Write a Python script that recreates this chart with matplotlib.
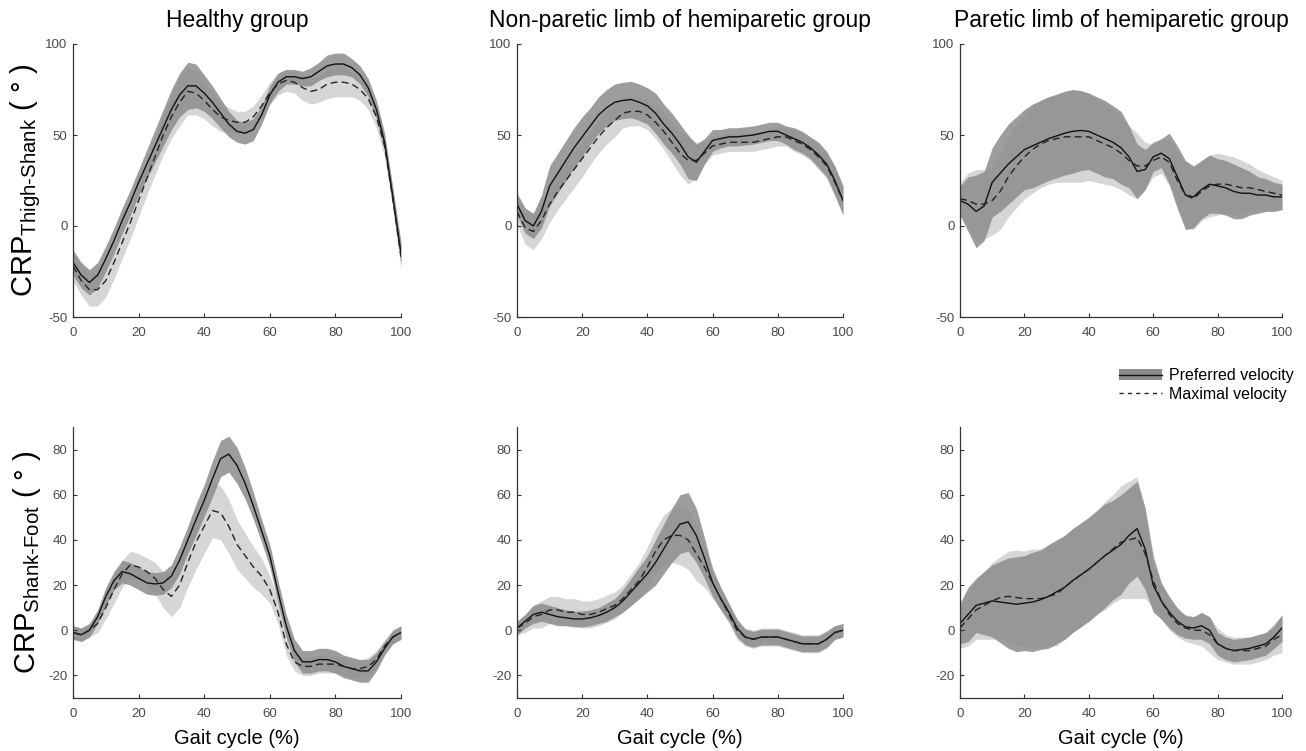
import numpy as np
import matplotlib
matplotlib.use("Agg")
import matplotlib.pyplot as plt
from matplotlib.patches import Patch
from matplotlib.lines import Line2D

plt.rcParams['font.family'] = ['Liberation Sans', 'DejaVu Sans']
plt.rcParams['mathtext.fontset'] = 'custom'
plt.rcParams['mathtext.rm'] = 'Liberation Sans'
plt.rcParams['mathtext.it'] = 'Liberation Sans'
plt.rcParams['axes.unicode_minus'] = False

# gait cycle (%) sampled every 2.5 %
gait = np.arange(0, 100.1, 2.5)

titles = ["Healthy group", "Non-paretic limb of hemiparetic group",
          "Paretic limb of hemiparetic group"]

# ---- CRP thigh-shank (top row) ----
ts_healthy_pref = [-20, -27, -31, -27, -18, -8, 3, 13, 24, 34, 44, 54, 64, 72, 77, 77, 73, 68, 62, 56,
                   52, 51, 53, 61, 72, 79, 82, 82, 81, 82, 85, 88, 89, 89, 87, 83, 76, 64, 46, 16, -15]
ts_healthy_pref_sd = [7, 7, 7, 7, 7, 7, 7, 7, 7, 8, 9, 10, 11, 12, 13, 12, 10, 9, 8, 7,
                      6, 6, 6, 5, 5, 5, 4, 4, 4, 5, 5, 6, 6, 6, 5, 5, 5, 5, 5, 5, 6]
ts_healthy_max = [-22, -30, -35, -35, -30, -20, -9, 2, 14, 26, 38, 50, 60, 68, 74, 73, 69, 64, 60, 58,
                  57, 57, 60, 66, 73, 78, 80, 79, 76, 74, 75, 78, 79, 79, 78, 75, 70, 60, 44, 15, -17]
ts_healthy_max_sd = [8, 8, 9, 9, 9, 9, 9, 9, 9, 9, 10, 11, 12, 13, 13, 12, 10, 9, 8, 7,
                     6, 6, 6, 6, 6, 6, 6, 6, 7, 7, 7, 8, 8, 8, 7, 6, 6, 6, 6, 6, 7]

ts_nonpar_pref = [12, 3, 0, 8, 22, 29, 36, 43, 49, 55, 61, 65, 68, 69, 69.5, 68, 66, 62, 56, 51,
                  45, 38, 35, 41, 47, 48, 49, 49, 49.5, 50, 51, 52, 52, 50, 48, 46, 43, 39, 34, 25, 14]
ts_nonpar_pref_sd = [6, 7, 7, 9, 11, 11, 11, 11, 11, 10, 10, 10, 10, 10, 10, 10, 10, 11, 11, 11,
                     11, 12, 10, 7, 6, 5, 5, 5, 5, 5, 5, 5, 5, 5, 6, 6, 6, 7, 7, 8, 8]
ts_nonpar_max = [8, -1, -3, 3, 12, 19, 25, 31, 37, 43, 49, 54, 58, 62, 63, 63, 61, 57, 52, 46,
                 40, 36, 36, 40, 44, 45, 46, 46, 46, 46, 47, 48, 49, 49, 47, 45, 42, 38, 33, 24, 14]
ts_nonpar_max_sd = [7, 9, 10, 10, 10, 10, 10, 10, 10, 9, 9, 9, 9, 8, 8, 8, 8, 9, 10, 11,
                    12, 13, 10, 6, 5, 5, 5, 5, 5, 5, 5, 5, 5, 5, 6, 6, 6, 7, 7, 8, 8]

ts_par_pref = [14, 12, 8, 11, 24, 29, 34, 38, 42, 44, 46, 48, 49.5, 51, 52, 52.5, 52, 50, 48, 46,
               43, 38, 30, 31, 38, 40, 37, 27, 17, 16, 20, 23, 22, 21, 19, 18, 18, 17, 17, 16, 16]
ts_par_pref_sd = [8, 15, 20, 19, 19, 21, 22, 22, 22, 23, 23, 23, 23, 23, 23, 22, 21, 21, 21, 20,
                  20, 17, 15, 11, 8, 8, 14, 17, 19, 17, 16, 16, 15, 15, 15, 14, 12, 10, 9, 8, 7]
ts_par_max = [15, 14, 12, 12, 14, 19, 27, 33, 38, 42, 45, 47, 48, 49, 49, 49, 49, 47, 45, 43,
              40, 36, 33, 33, 36, 38, 35, 25, 17, 15, 19, 22, 23, 23, 22, 21, 21, 20, 19, 18, 17]
ts_par_max_sd = [9, 15, 19, 19, 19, 21, 22, 23, 23, 24, 24, 24, 24, 25, 25, 25, 24, 23, 22, 21,
                 20, 19, 18, 13, 9, 9, 13, 16, 18, 17, 16, 17, 17, 16, 16, 15, 13, 11, 10, 9, 8]

# ---- CRP shank-foot (bottom row) ----
sf_healthy_pref = [-1, -2, 0, 6, 15, 22, 26, 25, 23, 21, 20.5, 21, 24, 31, 40, 49, 57.5, 67, 76, 78,
                   73, 65, 55, 44, 33, 17, 2, -9, -14, -14, -13, -13, -14, -16, -17, -18, -18, -14, -8, -3, -1]
sf_healthy_pref_sd = [3, 3, 3, 3, 4, 4, 5, 5, 5, 5, 5, 5, 5, 6, 6, 7, 7, 8, 8, 8,
                      8, 7, 6, 5, 5, 5, 5, 5, 5, 5, 5, 5, 5, 5, 5, 5, 5, 4, 3, 3, 3]
sf_healthy_max = [-1, -2, 0, 3, 10, 18, 25, 29, 28, 26, 23, 18, 15, 20, 30, 39, 46, 53, 52, 46,
                  38, 33, 28, 24, 18, 8, -6, -14, -16, -16, -15, -15, -15, -16, -17, -17, -16, -13, -7, -3, -1]
sf_healthy_max_sd = [3, 3, 3, 4, 5, 6, 6, 6, 6, 6, 7, 8, 9, 10, 11, 12, 12, 12, 12, 12,
                     11, 10, 9, 8, 6, 5, 5, 4, 4, 4, 4, 4, 4, 4, 4, 4, 4, 4, 3, 3, 3]

sf_nonpar_pref = [1, 4, 7, 8, 7, 6, 5.5, 5, 5, 5.5, 6.5, 8, 10, 13, 17, 21, 25, 30, 36, 42,
                  47, 48, 42, 32, 21, 14, 8, 1, -3, -4, -3, -3, -3, -4, -5, -6, -6, -6, -4, -1, 0]
sf_nonpar_pref_sd = [3, 3, 4, 4, 4, 4, 3.5, 3.5, 3.5, 3.5, 3.5, 4, 4, 5, 6, 7, 8, 10, 11, 12,
                     13, 13, 12, 9, 6, 5, 4, 4, 3.5, 3.5, 3.5, 3.5, 3.5, 3.5, 3.5, 3.5, 3.5, 3.5, 3.5, 3, 3]
sf_nonpar_max = [1, 3, 6, 7, 9, 9, 8, 8, 7, 7, 8, 9.5, 11, 14, 18, 22, 28, 35, 40, 42,
                 42, 40, 34, 28, 21, 14, 7, 0, -3, -4, -3, -3, -3, -4, -5, -6, -6, -6, -4, -1, 0]
sf_nonpar_max_sd = [3, 4, 5, 6, 6, 6, 6, 6, 6, 6, 6, 6, 6, 6, 7, 8, 9, 10, 11, 12,
                    13, 13, 12, 9, 7, 5, 4, 4, 4, 4, 4, 4, 4, 4, 4, 4, 4, 4, 4, 3, 3]

sf_par_pref = [3, 7, 11, 12, 13, 12.5, 12, 11.5, 12, 12.5, 13.5, 15, 17, 19, 22, 24.5, 27, 30, 33, 35.5,
               38, 42, 45, 36, 20, 13, 8, 4, 1.5, 1, 2, 0, -6, -8, -9, -8.5, -8, -7, -6, -3, 1]
sf_par_pref_sd = [9, 12, 12, 14, 16, 18, 20, 21, 21, 22, 22, 23, 23, 23, 23, 23, 23, 23, 23, 22,
                  22, 21, 21, 18, 12, 8, 7, 6, 5, 5, 6, 6, 5, 5, 5, 5, 5, 5, 5, 5, 6]
sf_par_max = [1, 5, 9, 11, 13, 14.5, 15, 14.5, 14, 14, 14, 15, 16, 19, 22, 24.5, 27, 30, 33, 36,
              39, 40, 41, 34, 22, 13, 7, 3, 1, 0, 0, -2, -6, -8, -9, -9, -9, -8, -7, -4, -2]
sf_par_max_sd = [9, 12, 13, 15, 17, 18, 20, 21, 21, 22, 22, 22, 23, 23, 23, 23, 23, 23, 24, 24,
                 25, 26, 27, 20, 12, 8, 7, 6, 6, 6, 7, 8, 7, 6, 6, 6, 6, 6, 6, 7, 8]

panels = [
    [(ts_healthy_pref, ts_healthy_pref_sd, ts_healthy_max, ts_healthy_max_sd),
     (ts_nonpar_pref, ts_nonpar_pref_sd, ts_nonpar_max, ts_nonpar_max_sd),
     (ts_par_pref, ts_par_pref_sd, ts_par_max, ts_par_max_sd)],
    [(sf_healthy_pref, sf_healthy_pref_sd, sf_healthy_max, sf_healthy_max_sd),
     (sf_nonpar_pref, sf_nonpar_pref_sd, sf_nonpar_max, sf_nonpar_max_sd),
     (sf_par_pref, sf_par_pref_sd, sf_par_max, sf_par_max_sd)],
]

DARK = '#8c8c8c'
LIGHT = '#d6d6d6'

fig = plt.figure(figsize=(13.06, 7.51), dpi=100)

lefts = [73, 517, 960]
rights = [401, 843, 1282]
rows = [(44, 317), (427, 698)]
W, H = 1306.0, 751.0

for r in range(2):
    top, bot = rows[r]
    for c in range(3):
        ax = fig.add_axes([lefts[c] / W, 1 - bot / H, (rights[c] - lefts[c]) / W, (bot - top) / H])
        pm, ps, mm, ms = [np.array(a, dtype=float) for a in panels[r][c]]
        ax.fill_between(gait, mm - ms, mm + ms, color=LIGHT, lw=0)
        ax.fill_between(gait, pm - ps, pm + ps, color=DARK, alpha=0.85, lw=0)
        ax.plot(gait, pm, color='#111111', lw=1.0)
        ax.plot(gait, mm, color='#222222', lw=1.0, dashes=(5, 3))
        ax.set_xlim(0, 100)
        ax.set_xticks([0, 20, 40, 60, 80, 100])
        if r == 0:
            ax.set_ylim(-50, 100)
            ax.set_yticks([-50, 0, 50, 100])
            ax.set_title(titles[c], fontsize=16.5, pad=12)
        else:
            ax.set_ylim(-30, 90)
            ax.set_yticks([-20, 0, 20, 40, 60, 80])
            ax.set_xlabel("Gait cycle (%)", fontsize=14.5, labelpad=7)
        for s in ['top', 'right']:
            ax.spines[s].set_visible(False)
        for s in ['left', 'bottom']:
            ax.spines[s].set_color('#333333')
            ax.spines[s].set_linewidth(0.9)
        ax.tick_params(direction='in', length=3, width=0.8, labelsize=9.5,
                       colors='#333333', labelcolor='#4a4a4a')
        ax.tick_params(axis='x', pad=7)
        ax.tick_params(axis='y', pad=4)
        if c == 0:
            if r == 0:
                ax.set_ylabel(r'CRP$_{\mathregular{Thigh}\text{-}\mathregular{Shank}}$ ( ° )', fontsize=21)
            else:
                ax.set_ylabel(r'CRP$_{\mathregular{Shank}\text{-}\mathregular{Foot}}$ ( ° )', fontsize=21)
            ax.yaxis.set_label_coords(-0.09, 0.5)

handles = [(Patch(facecolor=DARK, edgecolor='none'), Line2D([], [], color='#111111', lw=1.0)),
           Line2D([], [], color='#222222', lw=1.0, dashes=(3, 3))]
fig.legend(handles, ['Preferred velocity', 'Maximal velocity'], loc='upper right',
           bbox_to_anchor=(1300 / W, 1 - 362 / H), frameon=False, fontsize=11.5,
           handlelength=2.7, handletextpad=0.4, labelspacing=0.2, borderaxespad=0)

fig.savefig('out.png', dpi=100)
